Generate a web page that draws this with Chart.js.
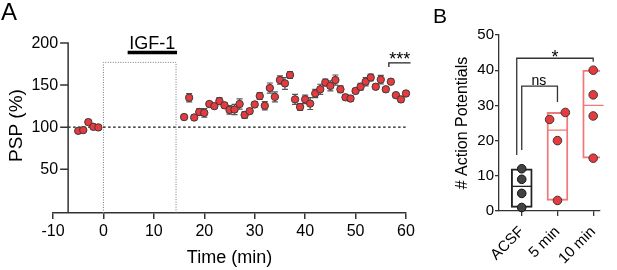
<!DOCTYPE html>
<html><head><meta charset="utf-8">
<script src="https://cdn.jsdelivr.net/npm/chart.js@4.4.0/dist/chart.umd.min.js"></script>
<style>
html,body{margin:0;padding:0;background:#fff;width:617px;height:270px;overflow:hidden;font-family:"Liberation Sans",Arial,sans-serif}
#wa{position:absolute;left:0;top:0;width:430px;height:270px}
#wb{position:absolute;left:430px;top:0;width:187px;height:270px}
.lbl{position:absolute;color:#000;line-height:1}
</style></head><body>
<div id="wa"><canvas id="ca" width="430" height="270"></canvas></div>
<div id="wb"><canvas id="cb" width="187" height="270"></canvas></div>
<div class="lbl" style="left:1px;top:0px;font-size:24px">A</div>
<div class="lbl" style="left:433px;top:5px;font-size:21px">B</div>
<script>
// ---------- Panel A data ----------
const timeMin = [-5,-4,-3,-2,-1,
  16,17,18,19,20,21,22,23,24,25,26,27,28,29,30,31,32,33,34,35,36,37,38,
  39,40,41,42,43,44,45,46,47,48,49,50,51,52,53,54,55,56,57,58,59,60];
const pspMean = [95.6,96.5,106,100.4,99.7,
  112,135,111.5,118,117,127.5,125,131,126,120.5,121,127.5,114.5,119,127,137,125.5,146.5,136,156,152,162,133,
  124,133,128,140,145,153,149,156,145,135.5,134,143,148,154,159,148,156.5,145,154,138,133,140];
const pspSem = [2,2,3,2,2,
  3,5,3,4,5,3,3,4,3,5,6,6,4,3,3,4,5,6,6,5,7,4,6,
  4,5,7,5,6,4,6,6,4,3,3,3,4,5,4,3,5,3,3,3,3,3];
const xTicksA = [-10,0,10,20,30,40,50,60];
const yTicksA = [50,100,150,200];
const baselineLevel = 100;
const yAxisAtTime = -7;
const igfStart = 0, igfEnd = 14.4, igfBoxTop = 177;
const igfBarStart = 4.8, igfBarEnd = 14.6, igfBarLevel = 188.6;
const sigA = {x0:56.6, x1:60.9, top:176.5, leg:171.5, text:'***'};

// ---------- Panel B data ----------
const groups = ['ACSF','5 min','10 min'];
const acsfAP = [12,9,5,1];
const min5AP = [26,28,20,3];
const min5Jitter = [-0.22,0.22,0,0];
const min10AP = [40,33,27,15];
const boxLow = [1,3,15];
const boxHigh = [12,28,40];
const boxMedian = [7,23,30];

const F = '"Liberation Sans", Arial, sans-serif';
Chart.defaults.font.family = F;
Chart.defaults.color = '#000';

const RED = '#e8393e';
const EDGE = '#3a3a3a';

// ---------- Panel A plugins ----------
const errorBarsA = {
  id:'errorBarsA',
  beforeDatasetsDraw(chart){
    const {ctx, scales:{x,y}} = chart;
    ctx.save();
    ctx.strokeStyle = '#555'; ctx.lineWidth = 1.2;
    timeMin.forEach((t,i)=>{
      const px = x.getPixelForValue(t);
      const p1 = y.getPixelForValue(pspMean[i]+pspSem[i]);
      const p2 = y.getPixelForValue(pspMean[i]-pspSem[i]);
      ctx.beginPath();
      ctx.moveTo(px,p1); ctx.lineTo(px,p2);
      ctx.moveTo(px-3,p1); ctx.lineTo(px+3,p1);
      ctx.moveTo(px-3,p2); ctx.lineTo(px+3,p2);
      ctx.stroke();
    });
    ctx.restore();
  }
};
const axisA = {
  id:'axisA',
  afterDraw(chart){
    const {ctx, scales:{x,y}, chartArea} = chart;
    const ax = x.getPixelForValue(yAxisAtTime);
    ctx.save();
    ctx.strokeStyle = '#333'; ctx.lineWidth = 1.5;
    ctx.beginPath();
    ctx.moveTo(ax, y.getPixelForValue(200)-0.75); ctx.lineTo(ax, chartArea.bottom);
    yTicksA.forEach(v=>{const py=y.getPixelForValue(v); ctx.moveTo(ax-8,py); ctx.lineTo(ax,py);});
    ctx.stroke();
    ctx.fillStyle = '#000';
    ctx.font = '16px '+F; ctx.textAlign='right'; ctx.textBaseline='middle';
    yTicksA.forEach(v=>{ctx.fillText(String(v), ax-10, y.getPixelForValue(v)+0.5);});
    // y title
    ctx.save();
    ctx.translate(17, 125.5); ctx.rotate(-Math.PI/2);
    ctx.font = '19px '+F; ctx.textAlign='center'; ctx.textBaseline='middle';
    ctx.fillText('PSP (%)',0,0);
    ctx.restore();
    // IGF-1 label
    ctx.font = '18px '+F; ctx.textAlign='center'; ctx.textBaseline='alphabetic';
    ctx.fillText('IGF-1', x.getPixelForValue((igfBarStart+igfBarEnd)/2), y.getPixelForValue(igfBarLevel)-4);
    // significance stars
    ctx.font = '18px '+F;
    ctx.fillText(sigA.text, x.getPixelForValue((sigA.x0+sigA.x1)/2), y.getPixelForValue(sigA.top)+2.5);
    ctx.restore();
  }
};

new Chart(document.getElementById('ca'),{
  type:'scatter',
  data:{datasets:[
    {data: timeMin.map((t,i)=>({x:t,y:pspMean[i]})), pointRadius:3.7, pointBackgroundColor:RED,
     pointBorderColor:EDGE, pointBorderWidth:1, showLine:false, clip:false},
    {type:'line', data:[{x:yAxisAtTime,y:baselineLevel},{x:60,y:baselineLevel}], borderColor:'#111',
     borderWidth:1.3, borderDash:[2.5,2.5], pointRadius:0},
    {type:'line', data:[{x:igfStart,y:-2},{x:igfStart,y:igfBoxTop},{x:igfEnd,y:igfBoxTop},{x:igfEnd,y:-2}],
     borderColor:'#777', borderWidth:1, borderDash:[1,1.5], pointRadius:0},
    {type:'line', data:[{x:igfBarStart,y:igfBarLevel},{x:igfBarEnd,y:igfBarLevel}], borderColor:'#000',
     borderWidth:3.5, pointRadius:0, clip:false},
    {type:'line', data:[{x:sigA.x0,y:sigA.leg},{x:sigA.x0,y:sigA.top},{x:sigA.x1,y:sigA.top},{x:sigA.x1,y:sigA.leg}],
     borderColor:'#222', borderWidth:1.3, pointRadius:0, clip:false}
  ]},
  options:{
    responsive:false, animation:false, events:[],
    layout:{padding:{left:53,right:24,top:43,bottom:0}},
    plugins:{legend:{display:false}, tooltip:{enabled:false}},
    scales:{
      x:{type:'linear', min:-10, max:60,
        afterBuildTicks(s){ s.ticks = xTicksA.map(v=>({value:v})); },
        ticks:{font:{size:16}, color:'#000', padding:3, maxRotation:0, autoSkip:false},
        grid:{display:true, drawOnChartArea:false, drawTicks:true, tickLength:6, color:'#333', lineWidth:1.5},
        border:{display:true, color:'#333', width:1.5},
        title:{display:true, text:'Time (min)', font:{size:18}, color:'#000', padding:{top:0,bottom:1}},
        afterFit(s){ s.height = 57; }
      },
      y:{type:'linear', min:-2, max:200, display:false}
    }
  },
  plugins:[errorBarsA, axisA]
});

// ---------- Panel B ----------
const textB = {
  id:'textB',
  afterDraw(chart){
    const {ctx, scales:{x,y}} = chart;
    ctx.save();
    ctx.fillStyle='#000'; ctx.textAlign='center'; ctx.textBaseline='alphabetic';
    ctx.font = '18px '+F;
    ctx.fillText('*', x.getPixelForValue(0.93), y.getPixelForValue(43.4)+5);
    ctx.font = '14px '+F;
    ctx.fillText('ns', x.getPixelForValue(0.48), y.getPixelForValue(35.5)-1.5);
    ctx.restore();
  }
};

new Chart(document.getElementById('cb'),{
  type:'bar',
  data:{datasets:[
    {type:'scatter', data: acsfAP.map(v=>({x:0,y:v})), pointRadius:4.3, pointBackgroundColor:'#424242',
     pointBorderColor:'#111', pointBorderWidth:1, showLine:false, clip:false},
    {type:'scatter', data: min5AP.map((v,i)=>({x:1+min5Jitter[i],y:v})), pointRadius:4.3, pointBackgroundColor:RED,
     pointBorderColor:EDGE, pointBorderWidth:1, showLine:false, clip:false},
    {type:'scatter', data: min10AP.map(v=>({x:2,y:v})), pointRadius:4.3, pointBackgroundColor:RED,
     pointBorderColor:EDGE, pointBorderWidth:1, showLine:false, clip:false},
    {type:'line', data:[{x:-0.29,y:boxMedian[0]},{x:0.29,y:boxMedian[0]}], borderColor:'#222', borderWidth:1.3, pointRadius:0},
    {type:'line', data:[{x:0.71,y:boxMedian[1]},{x:1.29,y:boxMedian[1]},{x:null,y:null},{x:1.71,y:boxMedian[2]},{x:2.29,y:boxMedian[2]}],
     borderColor:'#f07878', borderWidth:1.3, pointRadius:0, spanGaps:false, clip:false},
    {type:'line', data:[{x:-0.14,y:15.9},{x:-0.14,y:43.4},{x:2,y:43.4},{x:2,y:42.4}], borderColor:'#333', borderWidth:1.3, pointRadius:0, clip:false},
    {type:'line', data:[{x:0,y:17.3},{x:0,y:35.5},{x:1,y:35.5},{x:1,y:31}], borderColor:'#333', borderWidth:1.3, pointRadius:0, clip:false},
    {type:'bar', data: groups.map((g,i)=>({x:i, y:[boxLow[i],boxHigh[i]]})), backgroundColor:'rgba(0,0,0,0)',
     borderColor:['#222','#f07878','#f07878'], borderWidth:1.3, borderSkipped:false, barThickness:21, grouped:false}
  ]},
  options:{
    responsive:false, animation:false, events:[],
    layout:{padding:{left:19,right:17,top:35,bottom:0}},
    plugins:{legend:{display:false}, tooltip:{enabled:false}},
    scales:{
      x:{type:'linear', min:-0.636, max:2.19, offset:false,
        afterBuildTicks(s){ s.ticks = groups.map((g,i)=>({value:i})); },
        ticks:{callback:(v)=>groups[v], font:{size:15}, color:'#000', minRotation:45, maxRotation:45, padding:7, autoSkip:false},
        grid:{display:true, drawOnChartArea:false, drawTicks:true, tickLength:5, color:'#333', lineWidth:1.3, offset:false},
        border:{display:true, color:'#333', width:1.3},
        afterFit(s){ s.height = 59; }
      },
      y:{type:'linear', min:0, max:50,
        ticks:{stepSize:10, font:{size:15}, color:'#000', padding:1},
        grid:{display:true, drawOnChartArea:false, drawTicks:true, tickLength:4, color:'#333', lineWidth:1.3},
        border:{display:true, color:'#333', width:1.3},
        title:{display:true, text:'# Action Potentials', font:{size:16}, color:'#000', padding:{top:4,bottom:0}},
        afterFit(s){ s.width = 50; }
      }
    }
  },
  plugins:[textB]
});
</script>
</body></html>
